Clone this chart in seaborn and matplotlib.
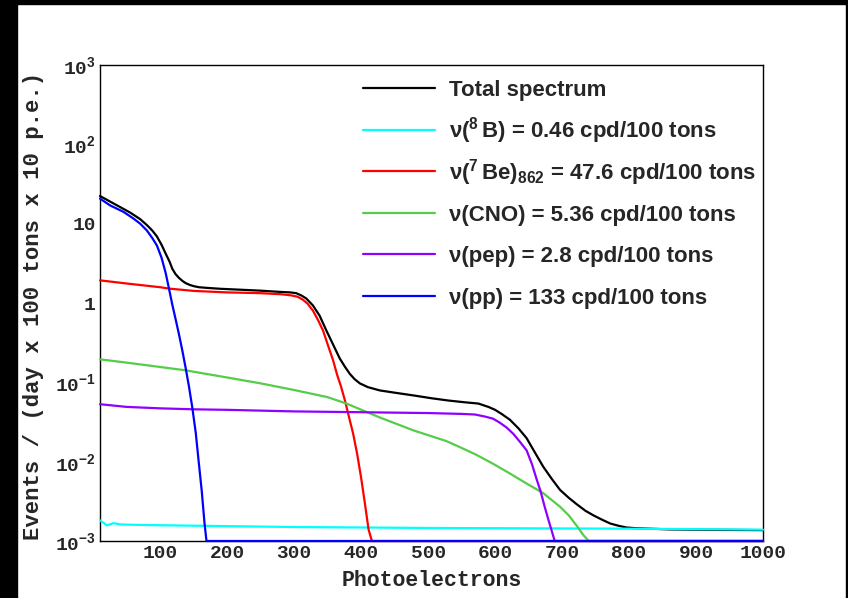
import matplotlib
matplotlib.use("Agg")
import matplotlib.pyplot as plt
from matplotlib.lines import Line2D
from matplotlib.legend_handler import HandlerLine2D
from matplotlib.patches import Rectangle
from matplotlib.ticker import MultipleLocator, LogLocator, NullFormatter
import numpy as np
import seaborn as sns

# values (photoelectrons vs events); 0 = below the plotted range
total_x = [10, 25, 40, 55, 70, 80, 88, 95, 102, 108, 114, 118, 123, 128, 133, 138, 144, 150, 158, 170,
           190, 220, 250, 279, 294, 303, 311, 318, 328, 338, 348, 358, 368, 376, 383, 390, 398, 410, 428,
           455, 480, 505, 530, 555, 575, 590, 600, 610, 622, 635, 647, 660, 672, 685, 697, 710, 722, 735,
           747, 760, 772, 785, 796, 810, 830, 860, 900, 1000]
total_y = [22.3, 19.0, 16.2, 13.8, 11.4, 9.6, 8.2, 6.9, 5.4, 4.2, 3.3, 2.7, 2.3, 2.07, 1.9, 1.78, 1.69,
           1.63, 1.58, 1.55, 1.51, 1.47, 1.43, 1.38, 1.36, 1.33, 1.24, 1.14, 0.93, 0.69, 0.45, 0.30, 0.20,
           0.156, 0.128, 0.11, 0.097, 0.087, 0.079, 0.073, 0.068, 0.063, 0.059, 0.056, 0.054, 0.049,
           0.045, 0.0398, 0.0338, 0.0262, 0.0198, 0.0128, 0.0086, 0.006, 0.0044, 0.0035, 0.0029, 0.0024,
           0.0021, 0.00185, 0.00166, 0.00155, 0.00148, 0.00145, 0.00143, 0.0014, 0.00139, 0.00137]

b8_x = [10, 15, 20, 25, 30, 40, 60, 100, 200, 300, 400, 500, 600, 700, 800, 900, 1000]
b8_y = [1.82e-3, 1.7e-3, 1.58e-3, 1.62e-3, 1.68e-3, 1.62e-3, 1.6e-3, 1.58e-3, 1.54e-3, 1.5e-3,
        1.48e-3, 1.46e-3, 1.45e-3, 1.44e-3, 1.43e-3, 1.41e-3, 1.39e-3]

be7_x = [10, 50, 100, 113, 150, 200, 250, 280, 295, 305, 313, 320, 328, 336, 343, 350, 358, 364, 370,
         376, 382, 388, 394, 400, 406, 411, 416, 1000]
be7_y = [1.93, 1.76, 1.58, 1.52, 1.42, 1.36, 1.33, 1.29, 1.25, 1.2, 1.1, 0.98, 0.8, 0.6, 0.45, 0.3,
         0.19, 0.125, 0.088, 0.058, 0.036, 0.0225, 0.0125, 0.0062, 0.0028, 0.0014, 0.0007, 0]

cno_x = [10, 50, 100, 137, 200, 250, 300, 350, 378, 428, 478, 527, 547, 572, 597, 622, 647, 672, 697,
         710, 722, 732, 740, 748, 1000]
cno_y = [0.195, 0.177, 0.156, 0.142, 0.115, 0.097, 0.08, 0.065, 0.054, 0.036, 0.0248, 0.0182, 0.0153,
         0.0122, 0.0094, 0.0071, 0.0053, 0.004, 0.0027, 0.0021, 0.00155, 0.00118, 0.00095, 0.0007, 0]

pep_x = [10, 50, 100, 150, 200, 300, 400, 500, 550, 570, 585, 597, 607, 617, 627, 637, 647, 655, 662,
         668, 674, 680, 685, 689, 694, 1000]
pep_y = [0.053, 0.049, 0.047, 0.0457, 0.045, 0.043, 0.042, 0.041, 0.040, 0.0393, 0.037, 0.0348, 0.031,
         0.027, 0.0225, 0.0178, 0.0139, 0.0093, 0.006, 0.0042, 0.0027, 0.0018, 0.0013, 0.001, 0.0007, 0]

pp_x = [10, 25, 45, 60, 70, 80, 88, 95, 102, 108, 113, 118, 123, 128, 133, 138, 143, 148, 153, 157,
        162, 166, 169, 173, 1000]
pp_y = [20.7, 17.0, 14.1, 11.6, 10.0, 8.2, 6.6, 5.3, 3.7, 2.4, 1.52, 0.95, 0.62, 0.40, 0.25, 0.15,
        0.087, 0.047, 0.023, 0.0107, 0.0042, 0.0017, 0.001, 0.0006, 0]

labels = ["Total spectrum",
          "ν($^{8}\\,$B) = 0.46 cpd/100 tons",
          "ν($^{7}\\,$Be)$_{862}$ = 47.6 cpd/100 tons",
          "ν(CNO) = 5.36 cpd/100 tons",
          "ν(pep) = 2.8 cpd/100 tons",
          "ν(pp) = 133 cpd/100 tons"]
colors = ["#000000", "#00FFFF", "#FF0000", "#55CC4A", "#8F00FF", "#0000FF"]
series = [(total_x, total_y), (b8_x, b8_y), (be7_x, be7_y), (cno_x, cno_y), (pep_x, pep_y), (pp_x, pp_y)]

ytick_vals = [1e-3, 1e-2, 1e-1, 1, 10, 1e2, 1e3]
ytick_labels = ["10$^{-3}$", "10$^{-2}$", "10$^{-1}$", "1", "10", "10$^{2}$", "10$^{3}$"]


class KeyLine(HandlerLine2D):
    """legend key line sitting at mid cap height of the label"""
    def create_artists(self, legend, orig_handle, xdescent, ydescent, width, height, fontsize, trans):
        arts = super().create_artists(legend, orig_handle, xdescent, ydescent, width, height, fontsize, trans)
        for a in arts:
            a.set_ydata(np.full(len(a.get_xdata()), 0.36 * fontsize))
        return arts


sns.set_style("white")
plt.rcParams["mathtext.fontset"] = "custom"
plt.rcParams["mathtext.rm"] = "Liberation Sans:bold"
plt.rcParams["mathtext.it"] = "Liberation Sans:bold"
plt.rcParams["mathtext.bf"] = "Liberation Sans:bold"
plt.rcParams["axes.unicode_minus"] = True

W, H = 848, 598
fig = plt.figure(figsize=(W / 100, H / 100), dpi=100)
fig.patch.set_facecolor("white")
ax = fig.add_axes([100 / W, 1 - 541 / H, 663 / W, 476 / H])

ymin = 1e-3
for (xs, ys), c, lab in zip(series, colors, labels):
    sns.lineplot(x=np.array(xs), y=np.clip(np.array(ys, float), ymin, None), ax=ax, color=c, label=lab,
                 linewidth=1.6, sort=False, estimator=None, zorder=3, clip_on=False)

ax.set_yscale("log")
ax.set_xlim(10, 1000)
ax.set_ylim(ymin, 1e3)

ax.set_xticks(range(100, 1001, 100), labels=[str(v) for v in range(100, 1001, 100)])
ax.xaxis.set_minor_locator(MultipleLocator(20))
ax.set_yticks(ytick_vals, labels=ytick_labels)
ax.yaxis.set_minor_locator(LogLocator(base=10, subs=np.arange(2, 10), numticks=20))
ax.yaxis.set_minor_formatter(NullFormatter())
for t in ax.get_xticklabels() + ax.get_yticklabels():
    t.set_fontfamily("Liberation Mono")
    t.set_fontweight("bold")
    t.set_fontsize(14)

ax.tick_params(axis="x", which="major", direction="in", length=10.8, width=1, pad=3, top=False)
ax.tick_params(axis="x", which="minor", direction="in", length=5, width=1, top=False)
ax.tick_params(axis="y", which="major", direction="in", length=14.4, width=1, pad=3, right=False)
ax.tick_params(axis="y", which="minor", direction="in", length=7.2, width=1, right=False)
for s in ax.spines.values():
    s.set_color("black")
    s.set_linewidth(1)

ax.set_xlabel("Photoelectrons", fontsize=15.5, family="Liberation Mono", weight="bold")
ax.set_ylabel("Events / (day x 100 tons x 10 p.e.)", fontsize=16, family="Liberation Mono", weight="bold")
ax.xaxis.set_label_coords(0.5, -0.06)
ax.yaxis.set_label_coords(-0.085, 0.494)

ax.legend(loc="upper left", bbox_to_anchor=((363 - 100) / 663, (541 - 68.4) / 476),
          frameon=False, borderpad=0, borderaxespad=0, handlelength=3.24, handletextpad=0.63,
          handleheight=2.503, labelspacing=0, handler_map={Line2D: KeyLine()},
          prop={"family": "Liberation Sans", "weight": "bold", "size": 16})

# dark canvas edges
fig.patches.append(Rectangle((0, 0), 17 / W, 1, transform=fig.transFigure, color="black", zorder=0))
fig.patches.append(Rectangle((0, 1 - 4 / H), 1, 4 / H, transform=fig.transFigure, color="black", zorder=0))
fig.patches.append(Rectangle((1 - 2 / W, 0), 2 / W, 1, transform=fig.transFigure, color="black", zorder=0))

fig.savefig("out.png", dpi=100)
